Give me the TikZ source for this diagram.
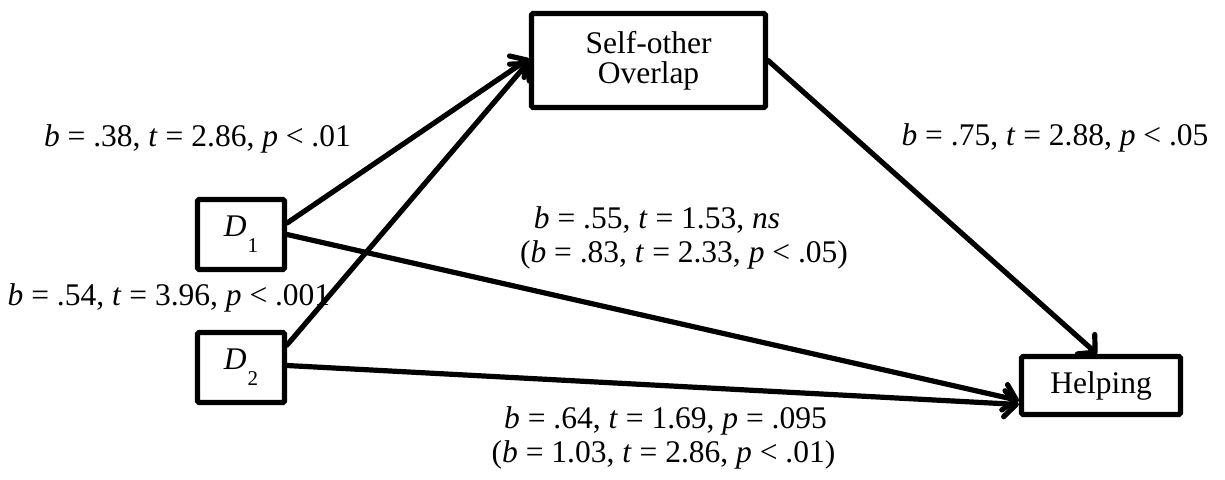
\documentclass[tikz,border=0pt]{standalone}
\usepackage{fontspec}
\setmainfont{Liberation Serif}
\usetikzlibrary{arrows.meta}
\newcommand{\dvar}[1]{\textit{D}\kern0.5pt\raisebox{-0.5em}{\fontsize{10.5}{11}\selectfont #1}}
\begin{document}
\begin{tikzpicture}[x=0.5pt,y=-0.5pt,
  every node/.style={font=\fontsize{15.75}{17}\selectfont, inner sep=0pt},
  box/.style={draw, line width=2.6pt, rounded corners=0.8pt, align=center},
  lab/.style={anchor=base},
  conn/.style={line width=2.6pt, line cap=round, -{Straight Barb[length=6pt,width=13pt,round]}}]
\useasboundingbox (0,0) rectangle (1225,479);
\node[box, minimum width=117pt, minimum height=47pt] (self) at (648.5,60.5) {Self-other\\[-2pt]Overlap};
\node[box, minimum width=43.5pt, minimum height=35pt] (d1) at (241,234.5) {\dvar{1}};
\node[box, minimum width=43.5pt, minimum height=35pt] (d2) at (241,367.5) {\dvar{2}};
\node[box, minimum width=79.5pt, minimum height=29pt] (help) at (1101,385.5) {Helping};

\draw[conn] ([yshift=5.75pt]d1.east) -- ([yshift=1pt]self.west);
\draw[conn] ([yshift=11.25pt]d2.east) -- ([yshift=-0.5pt]self.west);
\draw[conn] (d1.east) -- ([yshift=-7.5pt]help.west);
\draw[conn] ([yshift=1pt]d2.east) -- ([yshift=-9.5pt]help.west);
\draw[conn] (self.east) -- ([xshift=-2pt]help.north);

\node[lab] (l1) at (197.5,146) {\textit{b} = .38, \textit{t} = 2.86, \textit{p} < .01};
\node[lab] (l2) at (657,228) {\textit{b} = .55, \textit{t} = 1.53, \textit{ns}};
\node[lab] (l2b) at (684,262) {(\textit{b} = .83, \textit{t} = 2.33, \textit{p} < .05)};
\node[lab] (l3) at (169,305) {\textit{b} = .54, \textit{t} = 3.96, \textit{p} < .001};
\node[lab] (l4) at (1055,145) {\textit{b} = .75, \textit{t} = 2.88, \textit{p} < .05};
\node[lab] (l5) at (665.5,428) {\textit{b} = .64, \textit{t} = 1.69, \textit{p} = .095};
\node[lab] (l6) at (663.5,462) {(\textit{b} = 1.03, \textit{t} = 2.86, \textit{p} < .01)};
\end{tikzpicture}
\end{document}
